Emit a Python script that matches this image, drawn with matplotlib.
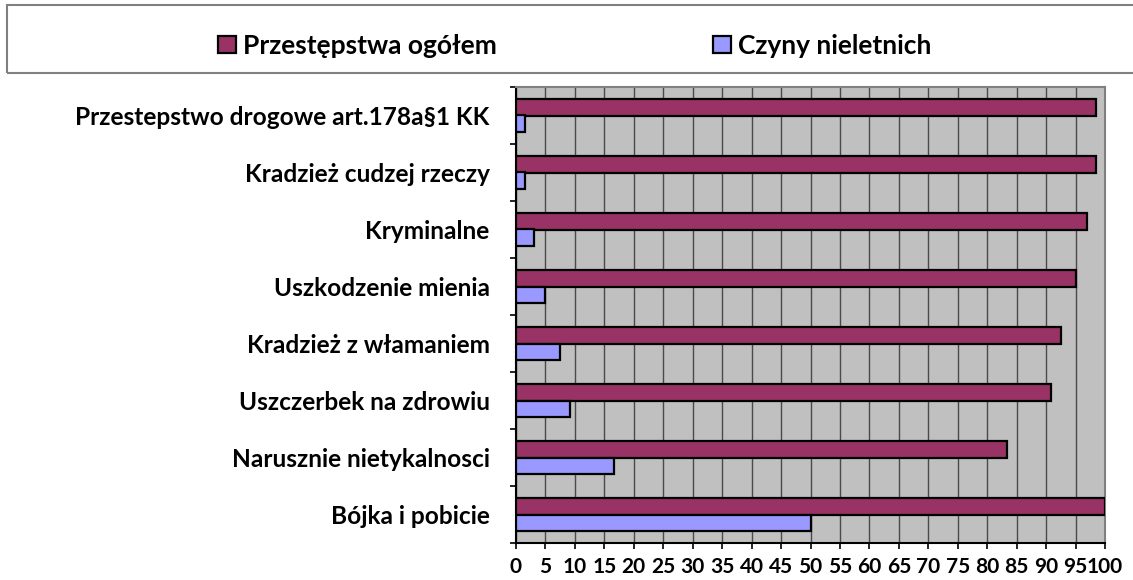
import matplotlib.pyplot as plt
import numpy as np
from matplotlib.patches import Rectangle

kategorie = ['Bójka i pobicie', 'Narusznie nietykalnosci', 'Uszczerbek na zdrowiu',
             'Kradzież z włamaniem', 'Uszkodzenie mienia', 'Kryminalne',
             'Kradzież cudzej rzeczy', 'Przestepstwo drogowe art.178a§1 KK']
ogolem = [100, 83.3, 90.8, 92.5, 95.1, 97.0, 98.4, 98.5]
nieletni = [50, 16.7, 9.2, 7.5, 4.9, 3.0, 1.6, 1.5]
seria = ['Przestępstwa ogółem', 'Czyny nieletnich']
xticki = np.arange(0, 101, 5)

plt.rcParams['font.family'] = ['Lato', 'DejaVu Sans']
plt.rcParams['font.weight'] = 'bold'

fig = plt.figure(figsize=(11.33, 5.8), dpi=100)
ax = fig.add_axes([516/1133, 37/580, 589/1133, 456/580])
ax.set_facecolor('#c0c0c0')

y = np.arange(len(kategorie))
h = 0.29
b1 = ax.barh(y + h/2, ogolem, height=h, color='#993366', edgecolor='black',
             linewidth=1.6, label=seria[0], zorder=3)
b2 = ax.barh(y - h/2, nieletni, height=h, color='#9999ff', edgecolor='black',
             linewidth=1.6, label=seria[1], zorder=3)

ax.set_xlim(0, 100)
ax.set_ylim(-0.5, len(kategorie) - 0.5)
ax.set_xticks(xticki)
ax.set_xticklabels([str(v) for v in xticki], fontsize=15, fontweight='bold')
ax.xaxis.grid(True, color='#4a4a4a', linewidth=1)
ax.set_axisbelow(True)

ax.set_yticks(y)
ax.set_yticklabels(kategorie, fontsize=17.6, fontweight='bold')
ax.set_yticks(np.arange(-0.5, len(kategorie), 1), minor=True)
ax.tick_params(axis='y', which='major', length=0, pad=19)
ax.tick_params(axis='y', which='minor', length=4, width=1.2, direction='out')
ax.tick_params(axis='x', length=4, width=1.2, direction='out', pad=6)

for s in ['left', 'bottom']:
    ax.spines[s].set_color('black')
    ax.spines[s].set_linewidth(1.5)
for s in ['top', 'right']:
    ax.spines[s].set_color('#808080')
    ax.spines[s].set_linewidth(1.5)

# ramka nad wykresem z legenda
fig.patches.append(Rectangle((7/1133, 1 - 73/580), 1.2, 68/580, transform=fig.transFigure,
                             fill=False, edgecolor='#808080', linewidth=1.5))
fig.text(0.55, 1 + 8/580, 'Czyny karalne nieletnich na tle ogółu przestępstw',
         ha='center', va='baseline', family='Liberation Serif', weight='bold', fontsize=24)

fig.legend(handles=[b1, b2], loc='center', bbox_to_anchor=(575/1133, 1 - 46/580), ncol=2,
           frameon=False, prop={'size': 19, 'weight': 'bold'}, handlelength=0.68,
           handleheight=0.6, handletextpad=0.26, columnspacing=8.2)

fig.savefig('out.png', dpi=100)
